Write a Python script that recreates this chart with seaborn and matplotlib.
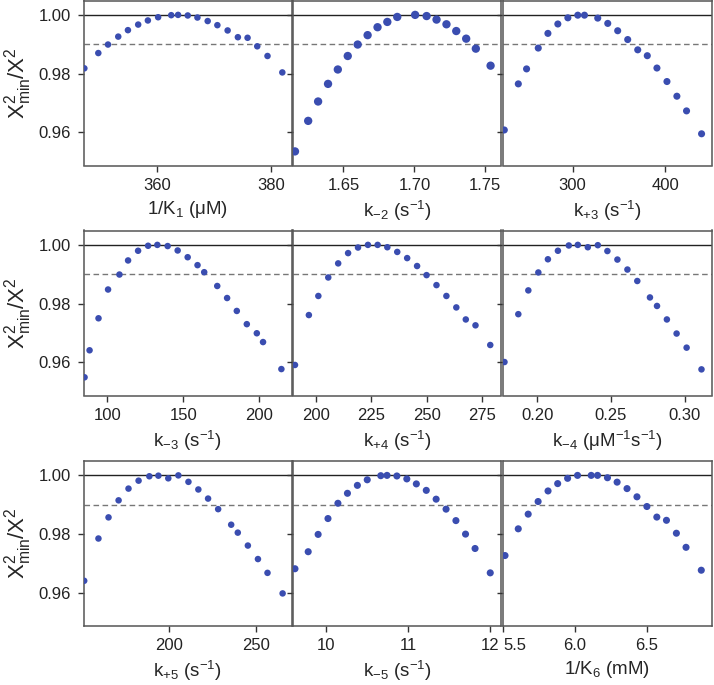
import numpy as np
import pandas as pd
import matplotlib
matplotlib.use("Agg")
import matplotlib.pyplot as plt
import seaborn as sns

# ---- data (x value, chi2_min/chi2) ----
k1_x = [347.25, 349.7, 351.4, 353.2, 354.9, 356.7, 358.4, 360.2, 362.5, 363.7,
        365.4, 367.1, 368.9, 370.6, 372.4, 374.2, 375.9, 377.6, 379.4, 382.0]
k1_y = [0.9818, 0.9870, 0.9899, 0.9926, 0.9948, 0.9967, 0.9981, 0.9992, 0.9999, 1.0,
        0.9998, 0.9991, 0.9979, 0.9965, 0.9947, 0.9924, 0.9922, 0.9893, 0.9860, 0.9804]

km2_x = [1.6158, 1.6251, 1.6321, 1.6391, 1.6460, 1.6530, 1.6600, 1.6670, 1.6740, 1.6809,
         1.6879, 1.7005, 1.7086, 1.7156, 1.7226, 1.7295, 1.7365, 1.7433, 1.7537]
km2_y = [0.9535, 0.9639, 0.9705, 0.9765, 0.9814, 0.9860, 0.9899, 0.9931, 0.9958, 0.9976,
         0.9993, 1.0, 0.9996, 0.9984, 0.9968, 0.9945, 0.9919, 0.9885, 0.9827]

kp3_x = [226.5, 241.6, 250.5, 263.1, 273.5, 284.2, 295.0, 305.7, 312.9, 327.2,
         338.0, 348.7, 359.5, 370.3, 380.6, 391.0, 401.8, 412.5, 422.9, 439.1]
kp3_y = [0.9608, 0.9765, 0.9816, 0.9887, 0.9937, 0.9969, 0.9990, 0.9999, 0.9999, 0.9989,
         0.9971, 0.9946, 0.9916, 0.9881, 0.9861, 0.9819, 0.9773, 0.9723, 0.9673, 0.9595]

km3_x = [84.9, 88.2, 94.1, 100.4, 107.9, 113.6, 120.2, 126.8, 132.9, 139.7,
         146.3, 152.9, 159.4, 163.8, 172.4, 178.9, 185.3, 191.9, 198.5, 202.6, 214.7]
km3_y = [0.9549, 0.9641, 0.9750, 0.9848, 0.9899, 0.9947, 0.9980, 0.9997, 1.0, 0.9996,
         0.9981, 0.9958, 0.9931, 0.9907, 0.9860, 0.9819, 0.9775, 0.9730, 0.9699, 0.9669, 0.9577]

kp4_x = [190.3, 196.6, 200.9, 205.4, 209.9, 214.4, 218.9, 223.4, 227.8, 232.2,
         236.7, 241.2, 245.7, 250.0, 254.5, 259.0, 263.5, 267.8, 272.2, 278.9]
kp4_y = [0.9591, 0.9761, 0.9826, 0.9889, 0.9937, 0.9972, 0.9991, 1.0, 1.0, 0.9992,
         0.9976, 0.9955, 0.9928, 0.9897, 0.9863, 0.9826, 0.9787, 0.9746, 0.9726, 0.9659]

km4_x = [0.1777, 0.1871, 0.1939, 0.2007, 0.2072, 0.2140, 0.2214, 0.2275, 0.2343, 0.2411,
         0.2476, 0.2544, 0.2612, 0.2679, 0.2765, 0.2813, 0.2880, 0.2946, 0.3014, 0.3115]
km4_y = [0.9601, 0.9764, 0.9845, 0.9906, 0.9951, 0.9980, 0.9998, 1.0, 0.9992, 0.9999,
         0.9979, 0.9950, 0.9916, 0.9877, 0.9821, 0.9792, 0.9746, 0.9698, 0.9650, 0.9576]

kp5_x = [151.0, 159.2, 165.0, 170.8, 176.5, 182.3, 188.5, 193.7, 199.4, 205.2,
         211.0, 216.7, 222.3, 228.1, 235.6, 239.4, 245.2, 251.0, 256.5, 265.2]
kp5_y = [0.9641, 0.9785, 0.9857, 0.9915, 0.9955, 0.9982, 0.9997, 0.9999, 0.9990, 1.0,
         0.9978, 0.9952, 0.9921, 0.9885, 0.9832, 0.9805, 0.9761, 0.9715, 0.9668, 0.9598]

km5_x = [9.622, 9.783, 9.904, 10.024, 10.145, 10.261, 10.382, 10.502, 10.667, 10.743,
         10.863, 10.984, 11.100, 11.221, 11.341, 11.462, 11.582, 11.699, 11.815, 12.0]
km5_y = [0.9682, 0.9740, 0.9799, 0.9853, 0.9905, 0.9939, 0.9966, 0.9985, 0.9999, 1.0,
         0.9998, 0.9988, 0.9971, 0.9949, 0.9919, 0.9885, 0.9846, 0.9800, 0.9751, 0.9668]

k6_x = [5.514, 5.606, 5.675, 5.744, 5.813, 5.880, 5.949, 6.018, 6.113, 6.157,
        6.226, 6.293, 6.362, 6.431, 6.500, 6.569, 6.636, 6.705, 6.772, 6.878]
k6_y = [0.9727, 0.9818, 0.9868, 0.9911, 0.9947, 0.9972, 0.9990, 1.0, 1.0, 1.0,
        0.9992, 0.9977, 0.9955, 0.9927, 0.9894, 0.9858, 0.9847, 0.9803, 0.9755, 0.9677]

x_labels = [r"1/K$_1$ ($\mu$M)", r"k$_{-2}$ (s$^{-1}$)", r"k$_{+3}$ (s$^{-1}$)",
            r"k$_{-3}$ (s$^{-1}$)", r"k$_{+4}$ (s$^{-1}$)", r"k$_{-4}$ ($\mu$M$^{-1}$s$^{-1}$)",
            r"k$_{+5}$ (s$^{-1}$)", r"k$_{-5}$ (s$^{-1}$)", r"1/K$_6$ (mM)"]
x_limits = [(347.1, 383.7), (1.6144, 1.7614), (225.1, 449.8),
            (84.2, 221.7), (189.4, 284.0), (0.1767, 0.3183),
            (150.6, 270.6), (9.598, 12.137), (5.5, 6.949)]
x_ticks = [[360, 380], [1.65, 1.70, 1.75], [300, 400],
           [100, 150, 200], [200, 225, 250, 275], [0.20, 0.25, 0.30],
           [200, 250], [10, 11, 12], [5.5, 6.0, 6.5]]
x_fmt = ["{:.0f}", "{:.2f}", "{:.0f}", "{:.0f}", "{:.0f}", "{:.2f}", "{:.0f}", "{:.0f}", "{:.1f}"]
marker_size = [22, 36, 26, 22, 22, 22, 22, 26, 26]

series = [(k1_x, k1_y), (km2_x, km2_y), (kp3_x, kp3_y),
          (km3_x, km3_y), (kp4_x, kp4_y), (km4_x, km4_y),
          (kp5_x, kp5_y), (km5_x, km5_y), (k6_x, k6_y)]

y_ticks = [0.96, 0.98, 1.00]
y_limits = (0.9487, 1.0049)

sns.set_style("ticks")
plt.rcParams['font.family'] = ['Liberation Sans', 'DejaVu Sans']
plt.rcParams['mathtext.fontset'] = 'custom'
plt.rcParams['mathtext.rm'] = 'Liberation Sans'
plt.rcParams['mathtext.it'] = 'Liberation Sans'
plt.rcParams['mathtext.default'] = 'regular'

W, H = 714, 685
fig = plt.figure(figsize=(W / 100, H / 100), dpi=100)

dot_color = "#3a4db0"
spine_color = "#555555"
col_left = [83.5, 293.0, 503.0]
ax_w = 208.5
row_top = [0.5, 230.5, 461.0]
ax_h = 165.0

for i, (xs, ys) in enumerate(series):
    r, c = divmod(i, 3)
    ax = fig.add_axes([col_left[c] / W, 1 - (row_top[r] + ax_h) / H, ax_w / W, ax_h / H])
    df = pd.DataFrame({"x": xs, "y": ys})
    ax.axhline(1.0, color="#222222", lw=1.0, zorder=1)
    ax.axhline(0.99, color="#777777", lw=1.0, ls=(0, (4, 2.5)), zorder=1)
    sns.scatterplot(data=df, x="x", y="y", ax=ax, color=dot_color, s=marker_size[i],
                    edgecolor="none", zorder=3, legend=False)
    ax.set_xlim(*x_limits[i])
    ax.set_ylim(*y_limits)
    ax.set_xticks(x_ticks[i])
    ax.set_xticklabels([x_fmt[i].format(t) for t in x_ticks[i]])
    ax.set_yticks(y_ticks)
    if c == 0:
        ax.set_yticklabels(["0.96", "0.98", "1.00"])
        ax.set_ylabel(r"X$^2_{\rm min}$/X$^2$", fontsize=16, labelpad=3)
    else:
        ax.set_yticklabels([])
        ax.set_ylabel("")
    ax.set_xlabel(x_labels[i], fontsize=13.5, labelpad=4)
    ax.tick_params(axis="both", direction="out", length=4, width=1.0,
                   color="#333333", labelsize=12, labelcolor="#222222", pad=5)
    for sp in ax.spines.values():
        sp.set_visible(True)
        sp.set_color(spine_color)
        sp.set_linewidth(1.1)
    if i == 8:
        # the first tick label sits on the left frame; nudge it inside like the original
        first = ax.get_xticklabels()[0]
        first.set_horizontalalignment("left")

fig.savefig("out.png", dpi=100)
